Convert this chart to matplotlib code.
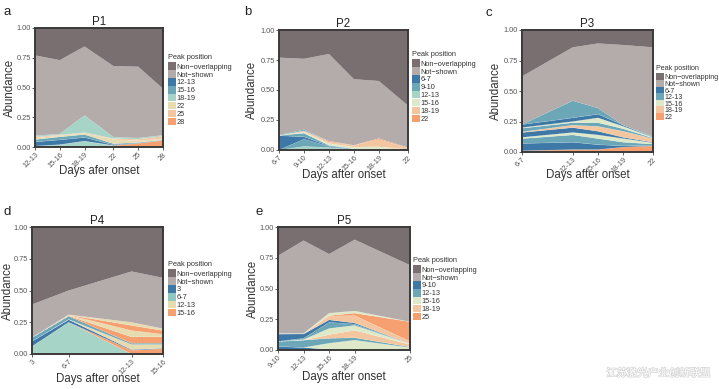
import matplotlib
matplotlib.use("Agg")
import matplotlib.pyplot as plt
import matplotlib.patheffects as pe
from matplotlib.patches import Patch
import numpy as np

plt.rcParams['font.family'] = ['Liberation Sans', 'DejaVu Sans']

# ---------------- colours ----------------
C_NON = '#796f70'
C_NS = '#b3acab'
C_BLUE = '#3e78a6'
C_TEAL = '#6ba7b7'
C_MINT = '#a6d5c8'
C_PALE = '#dde9c8'
C_CREAM = '#e6dcb0'
C_PEACH = '#f3c69f'
C_ORANGE = '#f6a070'

# ---------------- P1 ----------------
p1_days = [12.5, 15.5, 18.5, 22, 25, 28]
p1_ticks = ['12-13', '15-16', '18-19', '22', '25', '28']
p1_non_overlapping = [0.23, 0.27, 0.155, 0.32, 0.325, 0.51]
p1_mint_a = [0.008, 0.02, 0.05, 0.01, 0.005, 0.0]
p1_orange = [0.0, 0.0, 0.0, 0.003, 0.025, 0.055]
p1_blue = [0.035, 0.04, 0.03, 0.005, 0.003, 0.002]
p1_teal = [0.02, 0.025, 0.025, 0.01, 0.005, 0.003]
p1_cream = [0.01, 0.012, 0.012, 0.035, 0.015, 0.01]
p1_peach = [0.012, 0.005, 0.004, 0.008, 0.012, 0.02]
p1_mint_b = [0.01, 0.008, 0.145, 0.013, 0.011, 0.01]
p1_legend = ['12-13', '15-16', '18-19', '22', '25', '28']

# ---------------- P2 ----------------
p2_days = [6.5, 9.5, 12.5, 15.5, 18.5, 22]
p2_ticks = ['6-7', '9-10', '12-13', '15-16', '18-19', '22']
p2_non_overlapping = [0.23, 0.24, 0.20, 0.41, 0.425, 0.63]
p2_mint = [0.0, 0.03, 0.02, 0.005, 0.005, 0.0]
p2_teal_a = [0.0, 0.06, 0.01, 0.003, 0.002, 0.0]
p2_blue = [0.12, 0.02, 0.005, 0.002, 0.0, 0.0]
p2_teal_b = [0.002, 0.03, 0.005, 0.0, 0.0, 0.0]
p2_pale = [0.0, 0.01, 0.015, 0.015, 0.02, 0.005]
p2_peach = [0.0, 0.01, 0.01, 0.015, 0.06, 0.01]
p2_orange = [0.0, 0.0, 0.01, 0.0, 0.01, 0.005]
p2_teal_c = [0.003, 0.01, 0.0, 0.0, 0.0, 0.0]
p2_legend = ['6-7', '9-10', '12-13', '15-16', '18-19', '22']

# ---------------- P3 ----------------
p3_days = [6.5, 12.5, 15.5, 18.5, 22]
p3_ticks = ['6-7', '12-13', '15-16', '18-19', '22']
p3_non_overlapping = [0.38, 0.142, 0.11, 0.123, 0.142]
p3_orange = [0.01, 0.02, 0.02, 0.04, 0.05]
p3_blue_a = [0.06, 0.06, 0.04, 0.01, 0.005]
p3_teal_a = [0.04, 0.06, 0.05, 0.03, 0.01]
p3_pale_a = [0.01, 0.02, 0.03, 0.03, 0.01]
p3_blue_b = [0.04, 0.04, 0.03, 0.01, 0.005]
p3_peach = [0.005, 0.02, 0.04, 0.05, 0.03]
p3_teal_b = [0.03, 0.02, 0.03, 0.02, 0.005]
p3_pale_b = [0.005, 0.01, 0.04, 0.02, 0.005]
p3_blue_c = [0.025, 0.03, 0.03, 0.01, 0.003]
p3_teal_c = [0.001, 0.14, 0.05, 0.0, 0.005]
p3_legend = ['6-7', '12-13', '15-16', '18-19', '22']

# ---------------- P4 ----------------
p4_days = [3, 6.5, 12.5, 15.5]
p4_ticks = ['3', '6-7', '12-13', '15-16']
p4_non_overlapping = [0.61, 0.50, 0.35, 0.40]
p4_mint = [0.06, 0.25, 0.0, 0.0]
p4_orange_a = [0.0, 0.0, 0.03, 0.04]
p4_blue = [0.04, 0.02, 0.005, 0.005]
p4_cream_a = [0.0, 0.003, 0.04, 0.03]
p4_teal = [0.03, 0.025, 0.01, 0.01]
p4_orange_b = [0.0, 0.003, 0.05, 0.05]
p4_cream_b = [0.0, 0.005, 0.05, 0.02]
p4_orange_c = [0.0, 0.002, 0.04, 0.03]
p4_cream_c = [0.0, 0.002, 0.025, 0.015]
p4_legend = ['3', '6-7', '12-13', '15-16']

# ---------------- P5 ----------------
p5_days = [9.5, 12.5, 15.5, 18.5, 25]
p5_ticks = ['9-10', '12-13', '15-16', '18-19', '25']
p5_non_overlapping = [0.234, 0.11, 0.22, 0.103, 0.31]
p5_blue_a = [0.03, 0.02, 0.005, 0.0, 0.0]
p5_pale_a = [0.0, 0.0, 0.05, 0.08, 0.02]
p5_teal_a = [0.04, 0.06, 0.04, 0.02, 0.005]
p5_peach_a = [0.0, 0.0, 0.03, 0.06, 0.02]
p5_pale_b = [0.0, 0.005, 0.05, 0.04, 0.005]
p5_teal_b = [0.0, 0.01, 0.05, 0.01, 0.0]
p5_blue_b = [0.06, 0.035, 0.02, 0.01, 0.0]
p5_peach_b = [0.0, 0.003, 0.03, 0.06, 0.02]
p5_orange = [0.0, 0.0, 0.005, 0.02, 0.16]
p5_pale_c = [0.005, 0.002, 0.02, 0.018, 0.0]
p5_legend = ['9-10', '12-13', '15-16', '18-19', '25']

W, H = 719, 389
fig = plt.figure(figsize=(W / 100, H / 100), dpi=100)
fig.patch.set_facecolor('white')


def px_axes(l, t, r, b):
    return fig.add_axes([l / W, 1 - b / H, (r - l) / W, (b - t) / H])


def panel(box, days, ticks, layers, colors, nonov, title, xlabel,
          leg_labels, leg_colors, leg_xy, letter, letter_xy, ylab_x, xlab_y,
          spacing=-0.05, legfs=5.3):
    ax = px_axes(*box)
    layers = [np.array(v, dtype=float) for v in layers]
    colored = np.sum(layers, axis=0)
    nonov = np.array(nonov, dtype=float)
    notshown = 1 - nonov - colored
    polys = ax.stackplot(days, *layers, notshown, nonov,
                         colors=list(colors) + [C_NS, C_NON],
                         linewidth=0)
    for p in polys[:len(layers)]:
        p.set_edgecolor((1, 1, 1, 0.45))
        p.set_linewidth(0.4)
        p.set_linestyle(':')
    ax.set_xlim(days[0], days[-1])
    ax.set_ylim(0, 1)
    ax.set_xticks(days)
    ax.set_xticklabels(ticks, rotation=45, ha='right', rotation_mode='anchor')
    ax.set_yticks([0, 0.25, 0.5, 0.75, 1.0])
    ax.set_yticklabels(['0.00', '0.25', '0.50', '0.75', '1.00'])
    ax.tick_params(axis='both', labelsize=5.3, labelcolor='#555555',
                   length=2, width=0.6, color='#444444', pad=1.0)
    for s in ax.spines.values():
        s.set_color('#3a3a3a')
        s.set_linewidth(1.4)
    ax.set_title(title, fontsize=8.3, pad=2, color='#222222')
    ax.set_xlabel(xlabel, fontsize=8.3, color='#333333', va='center')
    ax.set_ylabel('Abundance', fontsize=8.3, color='#333333', va='center')
    ax.xaxis.set_label_coords((box[0] + box[2]) / 2 / W, 1 - xlab_y / H,
                              transform=fig.transFigure)
    ax.yaxis.set_label_coords(ylab_x / W, 1 - (box[1] + box[3]) / 2 / H,
                              transform=fig.transFigure)
    handles = [Patch(facecolor=C_NON, edgecolor='none'),
               Patch(facecolor=C_NS, edgecolor='none')]
    handles += [Patch(facecolor=c, edgecolor='none') for c in leg_colors]
    labels = ['Non\u2212overlapping', 'Not\u2212shown'] + list(leg_labels)
    leg = ax.legend(handles, labels, title='Peak position',
                    loc='upper left',
                    bbox_to_anchor=(leg_xy[0] / W, 1 - leg_xy[1] / H),
                    bbox_transform=fig.transFigure,
                    fontsize=legfs, title_fontsize=legfs, frameon=False,
                    handlelength=1.1, handleheight=1.2, handletextpad=0.1,
                    labelspacing=spacing, borderpad=0, borderaxespad=0)
    leg._legend_box.align = 'left'
    leg._legend_box.sep = 1
    for t in leg.get_texts():
        t.set_color('#333333')
    leg.get_title().set_color('#333333')
    fig.text(letter_xy[0] / W, 1 - letter_xy[1] / H, letter, fontsize=9.5,
             color='#222222', va='center', ha='left')
    return ax


panel((35, 28, 163, 147), p1_days, p1_ticks,
      [p1_mint_a, p1_orange, p1_blue, p1_teal, p1_cream, p1_peach, p1_mint_b],
      [C_MINT, C_ORANGE, C_BLUE, C_TEAL, C_CREAM, C_PEACH, C_MINT],
      p1_non_overlapping, 'P1', 'Days afer onset', p1_legend,
      [C_BLUE, C_TEAL, C_MINT, C_CREAM, C_PEACH, C_ORANGE],
      (168, 54), 'a', (4, 12), 10, 171)

panel((279, 30, 408, 150), p2_days, p2_ticks,
      [p2_mint, p2_teal_a, p2_blue, p2_teal_b, p2_pale, p2_peach, p2_orange, p2_teal_c],
      [C_MINT, C_TEAL, C_BLUE, C_TEAL, C_PALE, C_PEACH, C_ORANGE, C_TEAL],
      p2_non_overlapping, 'P2', 'Days after onset', p2_legend,
      [C_BLUE, C_TEAL, C_MINT, C_PALE, C_PEACH, C_ORANGE],
      (412, 51), 'b', (244, 12), 252, 175)

panel((522, 30, 653, 152), p3_days, p3_ticks,
      [p3_orange, p3_blue_a, p3_teal_a, p3_pale_a, p3_blue_b, p3_peach,
       p3_teal_b, p3_pale_b, p3_blue_c, p3_teal_c],
      [C_ORANGE, C_BLUE, C_TEAL, C_PALE, C_BLUE, C_PEACH, C_TEAL, C_PALE,
       C_BLUE, C_TEAL],
      p3_non_overlapping, 'P3', 'Days after onset', p3_legend,
      [C_BLUE, C_TEAL, C_PALE, C_PEACH, C_ORANGE],
      (656, 65), 'c', (486, 13), 496, 175, spacing=-0.2, legfs=5.1)

panel((32, 227, 163, 354), p4_days, p4_ticks,
      [p4_mint, p4_orange_a, p4_blue, p4_cream_a, p4_teal, p4_orange_b,
       p4_cream_b, p4_orange_c, p4_cream_c],
      [C_MINT, C_ORANGE, C_BLUE, C_CREAM, C_TEAL, C_ORANGE, C_CREAM,
       C_ORANGE, C_CREAM],
      p4_non_overlapping, 'P4', 'Days after onset', p4_legend,
      [C_BLUE, '#8fc8c0', C_CREAM, C_ORANGE],
      (168, 261), 'd', (4, 212), 8, 379)

panel((278, 227, 410, 350), p5_days, p5_ticks,
      [p5_blue_a, p5_pale_a, p5_teal_a, p5_peach_a, p5_pale_b, p5_teal_b,
       p5_blue_b, p5_peach_b, p5_orange, p5_pale_c],
      [C_BLUE, C_PALE, C_TEAL, C_PEACH, C_PALE, C_TEAL, C_BLUE, C_PEACH,
       C_ORANGE, C_PALE],
      p5_non_overlapping, 'P5', 'Days after onset', p5_legend,
      [C_BLUE, C_TEAL, C_PALE, C_PEACH, C_ORANGE],
      (413, 257), 'e', (256, 212), 253, 377)

# faint watermark
fig.text(710 / W, 1 - 373 / H, '江苏激光产业创新联盟', fontsize=7.5,
         family=['Noto Sans CJK SC', 'DejaVu Sans'], color='white',
         ha='right', va='center',
         path_effects=[pe.withStroke(linewidth=1.0, foreground='#d6d6d6')])

fig.savefig('out.png', dpi=100, facecolor='white')
